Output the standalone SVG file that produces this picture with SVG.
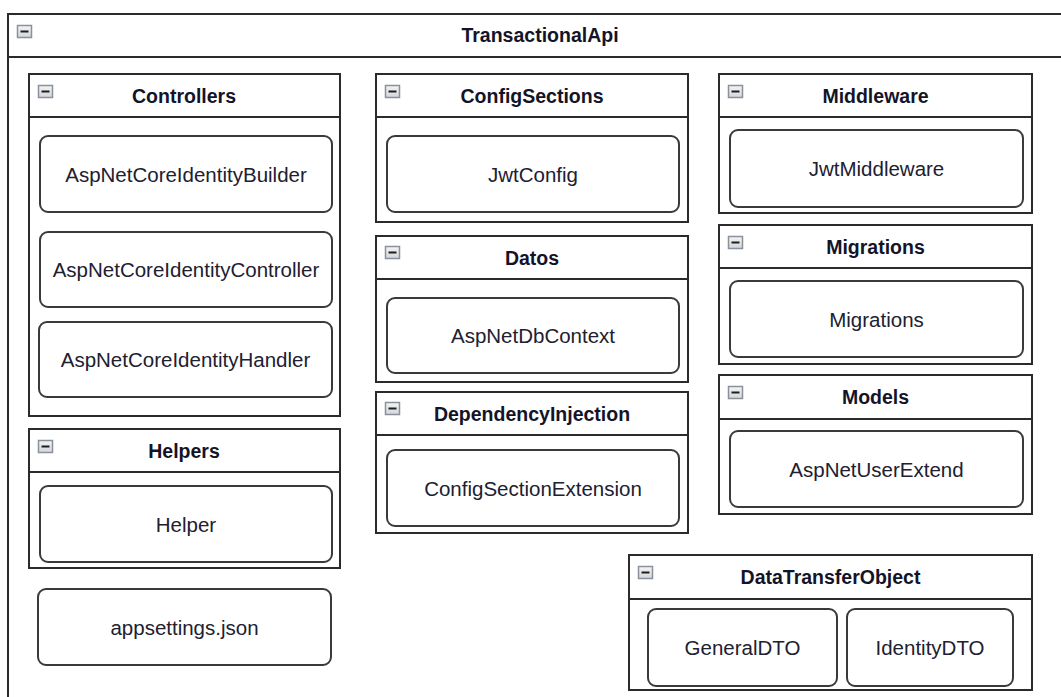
<svg xmlns="http://www.w3.org/2000/svg" width="1061" height="697" viewBox="0 0 1061 697">
  <style>
    .pkg { fill: #ffffff; stroke: #2b2b2b; stroke-width: 2; }
    .hdr { stroke: #2b2b2b; stroke-width: 2; fill: none; }
    .item { fill: #ffffff; stroke: #3a3a3a; stroke-width: 2; }
    .title { font-family: "Liberation Sans", Arial, sans-serif; font-weight: bold; font-size: 19.5px; fill: #141428; text-anchor: middle; }
    .label { font-family: "Liberation Sans", Arial, sans-serif; font-size: 20.5px; fill: #202030; text-anchor: middle; }
  </style>
  <defs>
    <!-- collapse toggle shown in each package header -->
    <linearGradient id="tgl" x1="0" y1="0" x2="0" y2="1">
      <stop offset="0" stop-color="#f4f4f4"/>
      <stop offset="1" stop-color="#d4d6da"/>
    </linearGradient>
    <g id="toggle">
      <rect x="0.5" y="0.5" width="14" height="12" fill="url(#tgl)" stroke="#8b919c" stroke-width="1.5"/>
      <line x1="3.5" y1="6.5" x2="11.5" y2="6.5" stroke="#1e1e1e" stroke-width="2"/>
    </g>
  </defs>

  <rect width="1061" height="697" fill="#ffffff"/>

  <!-- root package -->
  <g id="TransactionalApi">
    <rect class="pkg" x="8" y="14" width="1070" height="700"/>
    <line class="hdr" x1="8" y1="57" x2="1061" y2="57"/>
    <use href="#toggle" x="17" y="25"/>
    <text class="title" x="540" y="42">TransactionalApi</text>
  </g>

  <g id="Controllers">
    <rect class="pkg" x="29" y="74" width="311" height="342"/>
    <line class="hdr" x1="29" y1="117" x2="340" y2="117"/>
    <use href="#toggle" x="38" y="85"/>
    <text class="title" x="184" y="102.5">Controllers</text>
    <g id="AspNetCoreIdentityBuilder">
      <rect class="item" x="40" y="136" width="292" height="76" rx="8"/>
      <text class="label" x="186" y="181.5">AspNetCoreIdentityBuilder</text>
    </g>
    <g id="AspNetCoreIdentityController">
      <rect class="item" x="40" y="232" width="292" height="75" rx="8"/>
      <text class="label" x="186" y="277">AspNetCoreIdentityController</text>
    </g>
    <g id="AspNetCoreIdentityHandler">
      <rect class="item" x="39" y="322" width="293" height="75" rx="8"/>
      <text class="label" x="185.5" y="367">AspNetCoreIdentityHandler</text>
    </g>
  </g>

  <g id="Helpers">
    <rect class="pkg" x="29" y="429" width="311" height="139"/>
    <line class="hdr" x1="29" y1="472" x2="340" y2="472"/>
    <use href="#toggle" x="38" y="440"/>
    <text class="title" x="184" y="457.5">Helpers</text>
    <g id="Helper">
      <rect class="item" x="40" y="486" width="292" height="76" rx="8"/>
      <text class="label" x="186" y="531.5">Helper</text>
    </g>
  </g>

  <g id="appsettings">
    <rect class="item" x="38" y="589" width="293" height="76" rx="8"/>
    <text class="label" x="184.5" y="634.5">appsettings.json</text>
  </g>

  <g id="ConfigSections">
    <rect class="pkg" x="376" y="74" width="312" height="148"/>
    <line class="hdr" x1="376" y1="117" x2="688" y2="117"/>
    <use href="#toggle" x="385" y="85"/>
    <text class="title" x="532" y="102.5">ConfigSections</text>
    <g id="JwtConfig">
      <rect class="item" x="387" y="136" width="292" height="76" rx="8"/>
      <text class="label" x="533" y="181.5">JwtConfig</text>
    </g>
  </g>

  <g id="Datos">
    <rect class="pkg" x="376" y="236" width="312" height="146"/>
    <line class="hdr" x1="376" y1="279" x2="688" y2="279"/>
    <use href="#toggle" x="385" y="246"/>
    <text class="title" x="532" y="264.5">Datos</text>
    <g id="AspNetDbContext">
      <rect class="item" x="387" y="298" width="292" height="75" rx="8"/>
      <text class="label" x="533" y="343">AspNetDbContext</text>
    </g>
  </g>

  <g id="DependencyInjection">
    <rect class="pkg" x="376" y="392" width="312" height="141"/>
    <line class="hdr" x1="376" y1="435" x2="688" y2="435"/>
    <use href="#toggle" x="385" y="402"/>
    <text class="title" x="532" y="420.5">DependencyInjection</text>
    <g id="ConfigSectionExtension">
      <rect class="item" x="387" y="450" width="292" height="76" rx="8"/>
      <text class="label" x="533" y="495.5">ConfigSectionExtension</text>
    </g>
  </g>

  <g id="Middleware">
    <rect class="pkg" x="719" y="74" width="313" height="139"/>
    <line class="hdr" x1="719" y1="117" x2="1032" y2="117"/>
    <use href="#toggle" x="728" y="85"/>
    <text class="title" x="875.5" y="102.5">Middleware</text>
    <g id="JwtMiddleware">
      <rect class="item" x="730" y="130" width="293" height="77" rx="8"/>
      <text class="label" x="876.5" y="176">JwtMiddleware</text>
    </g>
  </g>

  <g id="Migrations">
    <rect class="pkg" x="719" y="225" width="313" height="139"/>
    <line class="hdr" x1="719" y1="268" x2="1032" y2="268"/>
    <use href="#toggle" x="728" y="236"/>
    <text class="title" x="875.5" y="253.5">Migrations</text>
    <g id="MigrationsItem">
      <rect class="item" x="730" y="281" width="293" height="76" rx="8"/>
      <text class="label" x="876.5" y="326.5">Migrations</text>
    </g>
  </g>

  <g id="Models">
    <rect class="pkg" x="719" y="375" width="313" height="139"/>
    <line class="hdr" x1="719" y1="419" x2="1032" y2="419"/>
    <use href="#toggle" x="728" y="386"/>
    <text class="title" x="875.5" y="404">Models</text>
    <g id="AspNetUserExtend">
      <rect class="item" x="730" y="431" width="293" height="76" rx="8"/>
      <text class="label" x="876.5" y="476.5">AspNetUserExtend</text>
    </g>
  </g>

  <g id="DataTransferObject">
    <rect class="pkg" x="629" y="555" width="403" height="135"/>
    <line class="hdr" x1="629" y1="599" x2="1032" y2="599"/>
    <use href="#toggle" x="638" y="566"/>
    <text class="title" x="830.5" y="584">DataTransferObject</text>
    <g id="GeneralDTO">
      <rect class="item" x="648" y="609" width="189" height="77" rx="8"/>
      <text class="label" x="742.5" y="655">GeneralDTO</text>
    </g>
    <g id="IdentityDTO">
      <rect class="item" x="847" y="609" width="166" height="77" rx="8"/>
      <text class="label" x="930" y="655">IdentityDTO</text>
    </g>
  </g>

  <!-- no connectors between elements -->
  <g id="connectors"/>
</svg>
